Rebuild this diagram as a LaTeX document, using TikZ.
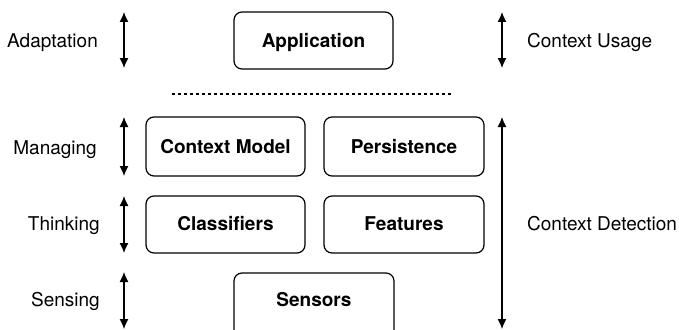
\documentclass[tikz,border=0pt]{standalone}
\usepackage{fontspec}
\setmainfont{TeX Gyre Heros}
\usetikzlibrary{arrows.meta}
\begin{document}
\begin{tikzpicture}[x=1pt,y=-1pt,
  frame/.style={draw, line width=1.2pt, rounded corners=8pt},
  title/.style={font=\fontsize{19}{21}\selectfont\bfseries, inner sep=0pt,
    text height=0.72em, text depth=0pt},
  lbl/.style={font=\fontsize{19}{21}\selectfont, inner sep=0pt,
    text height=0.72em, text depth=0pt},
  span/.style={line width=1.2pt, {Latex[length=10pt,width=9pt]}-{Latex[length=10pt,width=9pt]}}]
\useasboundingbox (0,0) rectangle (679,329);
\begin{scope}
\clip (0,0) rectangle (679,329);
% layer boxes
\draw[frame] (234,12) rectangle (393,69);
\draw[frame] (146,117) rectangle (305,176);
\draw[frame] (324,117) rectangle (484,176);
\draw[frame] (146,196) rectangle (305,253);
\draw[frame] (324,196) rectangle (484,253);
\draw[frame] (234,273) rectangle (394,360);
\end{scope}
\node[title] (app)  at (313.5,43.5)  {Application};
\node[title] (cm)   at (225.5,149.5) {Context Model};
\node[title] (per)  at (404,149.5)   {Persistence};
\node[title] (cls)  at (225.5,226.5) {Classifiers};
\node[title] (feat) at (404,226.5)   {Features};
\node[title] (sens) at (314,303)     {Sensors};
% separator between application and detection layers
\draw[line width=1.1pt, dash pattern=on 3pt off 3pt] (172,94) -- (451,94);
% level arrows
\coordinate (a1t) at (124,12); \coordinate (a1b) at (124,68);
\coordinate (a2t) at (124,117); \coordinate (a2b) at (124,176);
\coordinate (a3t) at (124,196); \coordinate (a3b) at (124,253);
\coordinate (a4t) at (124,272); \coordinate (a4b) at (124,329);
\coordinate (b1t) at (502,12); \coordinate (b1b) at (502,68);
\coordinate (b2t) at (502,117); \coordinate (b2b) at (502,329);
\draw[span] (a1t) -- (a1b);
\draw[span] (a2t) -- (a2b);
\draw[span] (a3t) -- (a3b);
\draw[span] (a4t) -- (a4b);
\draw[span] (b1t) -- (b1b);
\draw[span] (b2t) -- (b2b);
% level labels
\node[lbl, anchor=east] (l1) at (98,43.5)   {Adaptation};
\node[lbl, anchor=east] (l2) at (97,150.5)  {Managing};
\node[lbl, anchor=east] (l3) at (100,226.5) {Thinking};
\node[lbl, anchor=east] (l4) at (100,303)   {Sensing};
\node[lbl, anchor=west] (r1) at (527,43.5)  {Context Usage};
\node[lbl, anchor=west] (r2) at (527,226.5) {Context Detection};
\end{tikzpicture}
\end{document}
